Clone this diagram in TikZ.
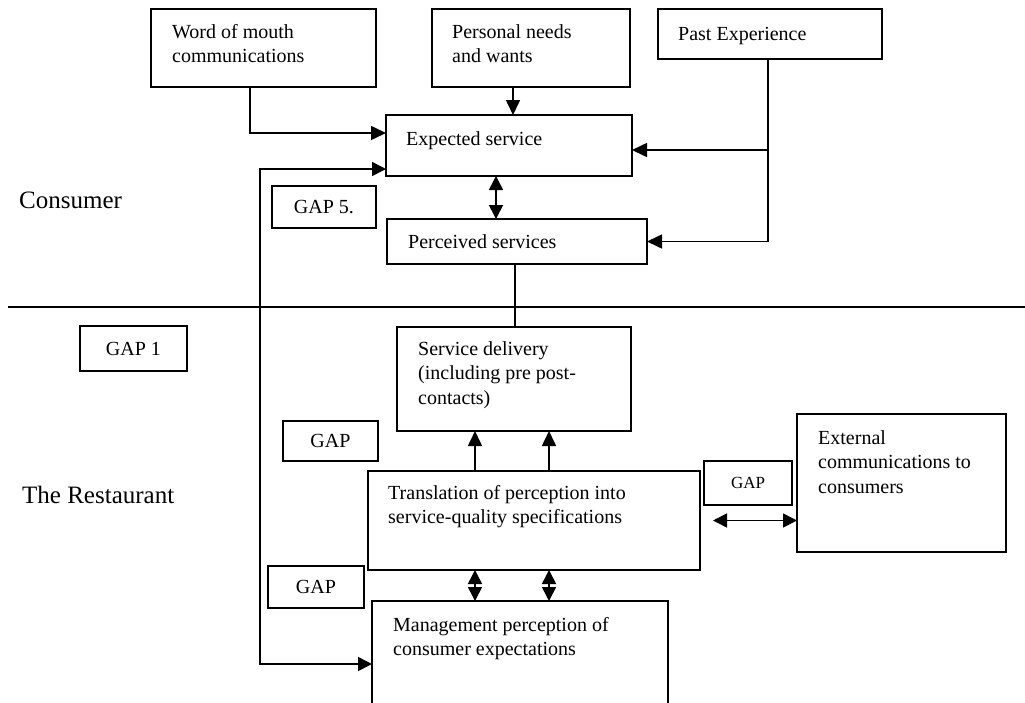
\documentclass[tikz,border=0pt]{standalone}
\usepackage{fontspec}
\setmainfont{Liberation Serif}
\usetikzlibrary{arrows.meta, calc}

\begin{document}
\begin{tikzpicture}[
    x=1pt, y=-1pt,
    every node/.style={font=\fontsize{20}{24.5}\selectfont},
    frame/.style={rectangle, draw, line width=1.6pt, inner sep=0pt, outer sep=0pt},
    txt/.style={anchor=base west, inner sep=0pt, align=left},
    side/.style={anchor=base west, inner sep=0pt, font=\fontsize{25}{30}\selectfont},
    arr/.style={-{Triangle[length=15pt,width=14pt]}, line width=1.6pt},
    dbl/.style={{Triangle[length=14pt,width=14pt]}-{Triangle[length=14pt,width=14pt]}, line width=1.6pt}
]
    \path[use as bounding box] (0,0) rectangle (1025,702);
    \clip (0,0) rectangle (1025,702);

    % consumer side
    \node[frame, minimum width=225, minimum height=78] (wom)  at (263.5,48)  {};
    \node[frame, minimum width=198, minimum height=78] (pnw)  at (531,48)    {};
    \node[frame, minimum width=224, minimum height=50] (pe)   at (770,34)    {};
    \node[frame, minimum width=246, minimum height=61] (exp)  at (509,145.5) {};
    \node[frame, minimum width=260, minimum height=45] (perc) at (517,241.5) {};
    \node[frame, minimum width=104, minimum height=42] (gap5) at (324,207)   {GAP 5.};

    % base = last line
    \node[txt] (womtxt)  at (172,62.5) {Word of mouth\\communications};
    \node[txt] (pnwtxt)  at (452,62.5) {Personal needs\\and wants};
    \node[txt] (petxt)   at (678,40)   {Past Experience};
    \node[txt] (exptxt)  at (406,145)  {Expected service};
    \node[txt] (perctxt) at (408,248)  {Perceived services};

    % restaurant side
    \node[frame, minimum width=107, minimum height=45]  (gap1) at (133.5,348.5) {GAP 1};
    \node[frame, minimum width=234, minimum height=104] (sd)   at (514,379)     {};
    \node[frame, minimum width=95,  minimum height=40]  (gapa) at (330.5,441)   {GAP};
    \node[frame, minimum width=332, minimum height=99]  (tr)   at (534,520.5)   {};
    \node[frame, minimum width=96,  minimum height=42]  (gapb) at (316,587)     {GAP};
    \node[frame, minimum width=296, minimum height=130] (mgmt) at (520,666)     {};
    \node[frame, minimum width=88,  minimum height=44, font=\fontsize{17}{20}\selectfont] (gapc) at (748,483) {GAP};
    \node[frame, minimum width=209, minimum height=138] (ext)  at (901.5,483)   {};

    \node[txt] (sdtxt)   at (418,404)   {Service delivery\\(including pre post-\\contacts)};
    \node[txt] (trtxt)   at (388,523.5) {Translation of perception into\\service-quality specifications};
    \node[txt] (mgmttxt) at (393,655.5) {Management perception of\\consumer expectations};
    \node[txt] (exttxt)  at (818,493)   {External\\communications to\\consumers};

    \node[side] (consumer) at (19,208) {Consumer};
    \node[side] (rest)     at (22,503) {The Restaurant};

    \draw[line width=1.6pt] (8,307) -- (1025,307);

    % connectors
    \draw[arr] ([xshift=99pt]wom.south west) |- ([yshift=-18pt]exp.north west);
    \draw[arr] ([xshift=81pt]pnw.south west) coordinate (p1) -- (p1 |- exp.north);
    \draw[line width=1.6pt] ([xshift=110pt]pe.south west) coordinate (pe1) -- (pe1 |- perc.east);
    \draw[arr] ([yshift=-4.5pt]pe1 |- exp.east) -- ([yshift=-4.5pt]exp.east);
    \draw[arr] (pe1 |- perc.east) -- (perc.east);
    \draw[dbl] ([xshift=110pt]exp.south west) coordinate (e1) -- (e1 |- perc.north);
    \draw[line width=1.6pt] ([xshift=128pt]perc.south west) coordinate (p2) -- (p2 |- sd.north);

    \coordinate (fbtop) at (260,169);
    \coordinate (fbbot) at (260,664);
    \draw[dbl] (exp.west |- fbtop) -- (fbtop) -- (fbbot) -- (mgmt.west |- fbbot);

    \foreach \dx in {107,181} {
        \draw[arr] ([xshift=\dx pt]tr.north west) coordinate (t) -- (t |- sd.south);
        \draw[dbl] ([xshift=\dx pt]tr.south west) coordinate (t) -- (t |- mgmt.north);
    }
    \draw[dbl] ([xshift=13pt]tr.east) coordinate (x1) -- (x1 -| ext.west);
\end{tikzpicture}
\end{document}
